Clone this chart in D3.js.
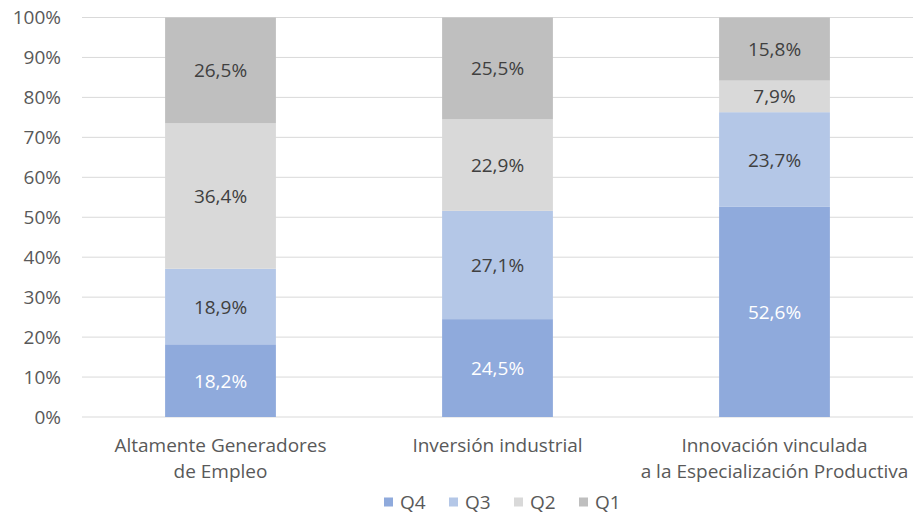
<html>
<head><meta charset="utf-8"></head>
<script src='https://d3js.org/d3.v7.min.js'></script>
<style>
  body { margin: 0; background: #fff; }
  text { font-family: 'Open Sans', sans-serif; }
</style>
<body onload='init()'>
<svg width=913 height=515></svg>
<script>
// chart data
var categories = [["Altamente Generadores", "de Empleo"], ["Inversión industrial"], ["Innovación vinculada", "a la Especialización Productiva"]];
var seriesNames = ["Q4", "Q3", "Q2", "Q1"];
var q4 = [18.2, 24.5, 52.6];
var q3 = [18.9, 27.1, 23.7];
var q2 = [36.4, 22.9, 7.9];
var q1 = [26.5, 25.5, 15.8];
var yTicks = [0, 10, 20, 30, 40, 50, 60, 70, 80, 90, 100];

function init() {
  var colors = {Q4: "#8faadc", Q3: "#b4c7e7", Q2: "#d9d9d9", Q1: "#bfbfbf"};
  var labelColors = {Q4: "#ffffff", Q3: "#404040", Q2: "#404040", Q1: "#404040"};
  var fs = "19px";
  var svg = d3.select("svg");

  var rows = categories.map(function(c, i) {
    return {key: i, Q4: q4[i], Q3: q3[i], Q2: q2[i], Q1: q1[i]};
  });

  var x = d3.scaleBand().domain(d3.range(categories.length)).range([82, 913])
    .paddingInner(0.6).paddingOuter(0.3);
  var y = d3.scaleLinear().domain([0, 100]).range([417, 17.5]);

  // gridlines
  svg.append("g").selectAll("line").data(yTicks).enter().append("line")
    .attr("x1", 82).attr("x2", 913)
    .attr("y1", function(d) { return y(d); }).attr("y2", function(d) { return y(d); })
    .attr("stroke", "#d9d9d9").attr("stroke-width", 1);

  // y axis labels
  var yAxis = svg.append("g").attr("transform", "translate(61,0)")
    .call(d3.axisLeft(y).tickValues(yTicks).tickSize(0).tickPadding(0).tickFormat(function(d) { return d + "%"; }));
  yAxis.select(".domain").remove();
  yAxis.selectAll("text").attr("fill", "#595959").style("font-size", fs).style("font-family", "'Open Sans', sans-serif");

  var stack = d3.stack().keys(seriesNames)(rows);

  var groups = svg.append("g").selectAll("g").data(stack).enter().append("g")
    .attr("fill", function(s) { return colors[s.key]; });
  groups.selectAll("rect").data(function(s) { return s; }).enter().append("rect")
    .attr("x", function(d) { return x(d.data.key); })
    .attr("width", x.bandwidth())
    .attr("y", function(d) { return y(d[1]); })
    .attr("height", function(d) { return y(d[0]) - y(d[1]); });

  // data labels
  stack.forEach(function(s) {
    svg.append("g").selectAll("text").data(s).enter().append("text")
      .attr("x", function(d) { return x(d.data.key) + x.bandwidth() / 2; })
      .attr("y", function(d) { return y((d[0] + d[1]) / 2); })
      .attr("text-anchor", "middle").attr("dominant-baseline", "central")
      .attr("fill", labelColors[s.key]).style("font-size", fs)
      .text(function(d) { return (d[1] - d[0]).toFixed(1).replace(".", ",") + "%"; });
  });

  // category labels
  var cat = svg.append("g").selectAll("text").data(categories).enter().append("text")
    .attr("text-anchor", "middle").attr("fill", "#595959").style("font-size", fs)
    .attr("transform", function(d, i) { return "translate(" + (x(i) + x.bandwidth() / 2) + ",0)"; });
  cat.selectAll("tspan").data(function(d) { return d; }).enter().append("tspan")
    .attr("x", 0).attr("y", function(d, j) { return 445 + j * 26; })
    .attr("dominant-baseline", "central")
    .text(function(d) { return d; });

  // legend
  var legend = svg.append("g").selectAll("g").data(seriesNames).enter().append("g")
    .attr("transform", function(d, i) { return "translate(" + (384 + i * 65) + ",502)"; });
  legend.append("rect").attr("x", 0).attr("y", -4.5).attr("width", 9).attr("height", 9)
    .attr("fill", function(d) { return colors[d]; });
  legend.append("text").attr("x", 16).attr("y", 0).attr("dominant-baseline", "central")
    .attr("fill", "#595959").style("font-size", fs).text(function(d) { return d; });
}
</script>
</body>
</html>
